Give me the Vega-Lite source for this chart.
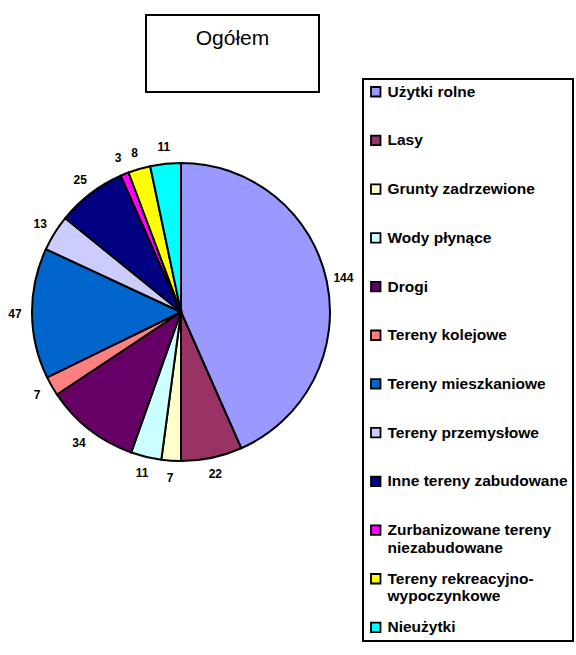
{
  "$schema": "https://vega.github.io/schema/vega-lite/v6.json",
  "padding": {"left": 8, "top": 14, "right": 0, "bottom": 0},
  "bounds": "flush",
  "spacing": 10,
  "background": "white",
  "config": {
    "font": "Liberation Sans",
    "view": {"stroke": null},
    "legend": {"strokeColor": "black", "strokeWidth": 2}
  },
  "vconcat": [
    {
      "width": 173,
      "height": 77,
      "view": {"stroke": "black", "strokeWidth": 2},
      "data": {"values": [{"title": "Ogółem"}]},
      "mark": {"type": "text", "font": "Liberation Sans", "fontSize": 21, "color": "black", "dy": -15},
      "encoding": {"text": {"field": "title", "type": "nominal"}}
    },
    {
      "width": 70,
      "height": 420,
      "data": {"values": [
        {"category": "Użytki rolne", "value": 144, "idx": 1},
        {"category": "Lasy", "value": 22, "idx": 2},
        {"category": "Grunty zadrzewione", "value": 7, "idx": 3},
        {"category": "Wody płynące", "value": 11, "idx": 4},
        {"category": "Drogi", "value": 34, "idx": 5},
        {"category": "Tereny kolejowe", "value": 7, "idx": 6},
        {"category": "Tereny mieszkaniowe", "value": 47, "idx": 7},
        {"category": "Tereny przemysłowe", "value": 13, "idx": 8},
        {"category": "Inne tereny zabudowane", "value": 25, "idx": 9},
        {"category": "Zurbanizowane tereny niezabudowane", "value": 3, "idx": 10},
        {"category": "Tereny rekreacyjno-wypoczynkowe", "value": 8, "idx": 11},
        {"category": "Nieużytki", "value": 11, "idx": 12}
      ]},
      "encoding": {
        "theta": {"field": "value", "type": "quantitative", "stack": true},
        "order": {"field": "idx", "type": "quantitative"},
        "color": {
          "field": "category",
          "type": "nominal",
          "scale": {
            "domain": ["Użytki rolne", "Lasy", "Grunty zadrzewione", "Wody płynące", "Drogi", "Tereny kolejowe", "Tereny mieszkaniowe", "Tereny przemysłowe", "Inne tereny zabudowane", "Zurbanizowane tereny niezabudowane", "Tereny rekreacyjno-wypoczynkowe", "Nieużytki"],
            "range": ["#9999FF", "#993366", "#FFFFCC", "#CCFFFF", "#660066", "#FF8080", "#0066CC", "#CCCCFF", "#000080", "#FF00FF", "#FFFF00", "#00FFFF"]
          },
          "legend": {
            "title": null,
            "orient": "none",
            "legendX": 217,
            "legendY": 64,
            "padding": 5,
            "gridAlign": "all",
            "symbolType": "square",
            "symbolSize": 90,
            "symbolStrokeColor": "black",
            "symbolStrokeWidth": 1.8,
            "symbolOpacity": 1,
            "labelFont": "Liberation Sans",
            "labelFontWeight": "bold",
            "labelFontSize": 15.5,
            "labelColor": "black",
            "labelOffset": 4,
            "labelLimit": 400,
            "rowPadding": 13.7,
            "labelExpr": "datum.label == 'Zurbanizowane tereny niezabudowane' ? ['Zurbanizowane tereny', 'niezabudowane'] : datum.label == 'Tereny rekreacyjno-wypoczynkowe' ? ['Tereny rekreacyjno-', 'wypoczynkowe'] : datum.label"
          }
        }
      },
      "layer": [
        {"mark": {"type": "arc", "outerRadius": 149, "stroke": "black", "strokeWidth": 2}},
        {
          "mark": {"type": "text", "radius": 166, "font": "Liberation Sans", "fontWeight": "bold", "fontSize": 12},
          "encoding": {
            "text": {"field": "value", "type": "quantitative"},
            "color": {"value": "black"},
            "detail": {"field": "category", "type": "nominal"}
          }
        }
      ]
    }
  ]
}
